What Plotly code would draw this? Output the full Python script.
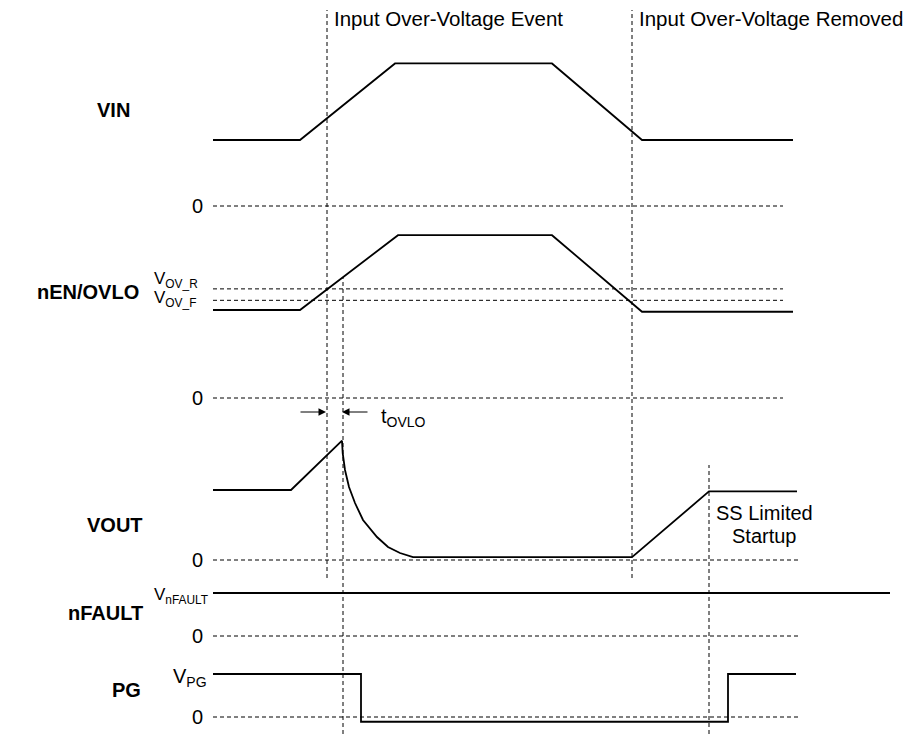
import plotly.graph_objects as go

W, H = 909, 734

# ---- data (time breakpoints in arbitrary time units, levels in signal units) ----
t_vin = [213, 300, 395, 552, 642, 793]
vin = [5.0, 5.0, 10.8, 10.8, 5.0, 5.0]

t_nen = [213, 300, 398, 552, 642, 793]
nen = [1.0, 1.0, 1.85, 1.85, 0.98, 0.98]
v_ov_r = 1.24
v_ov_f = 1.11

t_vout = [213, 291, 342, 342.7, 345, 349, 355, 363, 377, 388, 400, 413, 632, 709, 797]
vout = [5.0, 5.0, 8.52, 7.64, 6.43, 5.21, 4.07, 2.86, 1.64, 0.93, 0.5, 0.21, 0.2, 4.9, 4.9]

t_nfault = [213, 890]
nfault = [1.0, 1.0]

t_pg = [213, 361, 361, 728, 728, 796]
pg = [1.0, 1.0, -0.11, -0.11, 1.0, 1.0]

t_ov_event = 327
t_ovlo_trip = 343
t_ov_removed = 632
t_ss_done = 709

signal_names = ["VIN", "nEN/OVLO", "VOUT", "nFAULT", "PG"]

# ---- layout helpers ----
def yrange(zero_px, px_per_unit):
    return [(zero_px - H) / px_per_unit, zero_px / px_per_unit]

def py(p):
    return 1 - p / H

FONT = "Liberation Sans, Arial, sans-serif"
DASH = "4px,3px"

fig = go.Figure()
line_style = dict(color="black", width=1.8)
fig.add_trace(go.Scatter(x=t_vin, y=vin, mode="lines", line=line_style, yaxis="y"))
fig.add_trace(go.Scatter(x=t_nen, y=nen, mode="lines", line=line_style, yaxis="y2"))
fig.add_trace(go.Scatter(x=t_vout, y=vout, mode="lines", line=line_style, yaxis="y3"))
fig.add_trace(go.Scatter(x=t_nfault, y=nfault, mode="lines", line=line_style, yaxis="y4"))
fig.add_trace(go.Scatter(x=t_pg, y=pg, mode="lines", line=line_style, yaxis="y5"))

shapes = []
def hdash(yref, yv, x0, x1):
    shapes.append(dict(type="line", xref="x", yref=yref, x0=x0, x1=x1, y0=yv, y1=yv,
                       line=dict(color="black", width=1, dash=DASH)))

hdash("y", 0, 213, 783)
hdash("y2", v_ov_r, 213, 783)
hdash("y2", v_ov_f, 213, 783)
hdash("y2", 0, 213, 783)
hdash("y3", 0, 213, 799)
hdash("y4", 0, 213, 799)
hdash("y5", 0, 213, 799)

def vdash(x, p0, p1):
    shapes.append(dict(type="line", xref="x", yref="paper", x0=x, x1=x, y0=py(p1), y1=py(p0),
                       line=dict(color="black", width=1, dash=DASH)))

vdash(t_ov_event, 10, 578)
vdash(t_ov_removed, 10, 578)
vdash(t_ovlo_trip, 277, 734)
vdash(t_ss_done, 465, 734)

ann = []
def text(x, p, s, size=20, xanchor="left", bold=False):
    ann.append(dict(x=x, y=py(p), xref="x", yref="paper", text=("<b>%s</b>" % s) if bold else s,
                    showarrow=False, xanchor=xanchor, yanchor="middle",
                    font=dict(family=FONT, size=size, color="black")))

text(332, 19, "Input Over-Voltage Event", size=20.5)
text(637, 19, "Input Over-Voltage Removed", size=20.5)

# signal names
label_pos = [(132, 110), (141, 292), (145, 525), (145, 613), (143, 690)]
for name, (xr, p) in zip(signal_names, label_pos):
    text(xr, p, name, size=20, xanchor="right", bold=True)

for p in [206, 398, 560, 636, 717]:
    text(205, p, "0", xanchor="right")

text(152, 280, "V<sub>OV_R</sub>", size=17)
text(152, 299, "V<sub>OV_F</sub>", size=17)
text(152, 596, "V<sub>nFAULT</sub>", size=17)
text(171, 677, "V<sub>PG</sub>", size=20)
text(379, 417, "t<sub>OVLO</sub>", size=20)
text(764, 513, "SS Limited", xanchor="center")
text(764, 536, "Startup", xanchor="center")

# t_OVLO arrows
for x, ax in [(t_ov_event - 1, -27), (t_ovlo_trip - 1, 27)]:
    ann.append(dict(x=x, y=py(412), xref="x", yref="paper", text="", showarrow=True,
                    ax=ax, ay=0, arrowhead=2, arrowsize=1.5, arrowwidth=1, arrowcolor="black"))

axis_off = dict(visible=False, showgrid=False, zeroline=False, fixedrange=True)
fig.update_layout(
    width=W, height=H, autosize=False,
    margin=dict(l=0, r=0, t=0, b=0, pad=0),
    paper_bgcolor="white", plot_bgcolor="white",
    showlegend=False,
    xaxis=dict(range=[0, W], **axis_off),
    yaxis=dict(range=yrange(206, 13.2), **axis_off),
    yaxis2=dict(range=yrange(398, 88), overlaying="y", **axis_off),
    yaxis3=dict(range=yrange(560, 14), overlaying="y", **axis_off),
    yaxis4=dict(range=yrange(636, 43), overlaying="y", **axis_off),
    yaxis5=dict(range=yrange(717, 43), overlaying="y", **axis_off),
    shapes=shapes,
    annotations=ann,
)

fig.write_html("out.html", config={"displayModeBar": False},
               post_script="document.body.style.margin='0';document.body.style.overflow='hidden';")
